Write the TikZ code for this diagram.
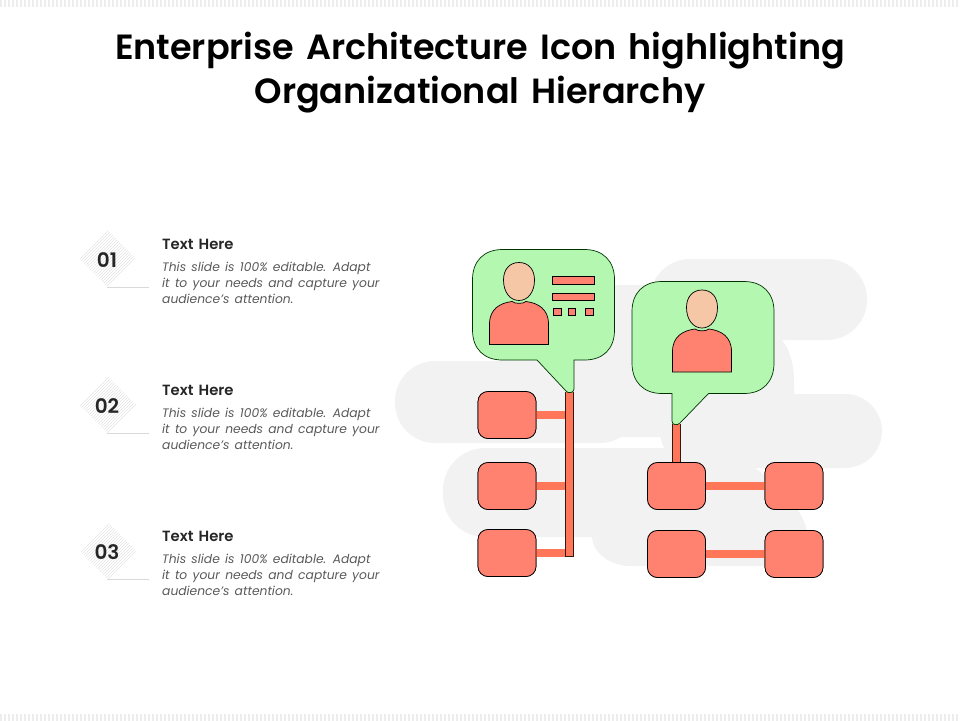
\documentclass[tikz,border=0pt]{standalone}
\usepackage{fontspec}
\setmainfont{Poppins}[BoldFont = {Poppins SemiBold}, WordSpace = 1.45]
\usetikzlibrary{patterns, shapes.geometric}

\definecolor{blobgray}{HTML}{F2F2F3}
\definecolor{bubblegreen}{HTML}{B3F7B0}
\definecolor{boxsalmon}{HTML}{FF8270}
\definecolor{barsalmon}{HTML}{FF7659}
\definecolor{skintone}{HTML}{F6C7A6}
\definecolor{inkdark}{HTML}{262626}
\definecolor{inkgray}{HTML}{595959}

\tikzset{
	orgbox/.style = {draw = black, line width = 0.7pt, fill = boxsalmon, rounded corners = 10pt, minimum width = 58pt, minimum height = 47pt, inner sep = 0pt},
	hbar/.style = {draw = barsalmon, line width = 8pt},
	iconpart/.style = {draw = black, line width = 0.7pt, fill = boxsalmon},
	bubble/.style = {draw = black!80!green, line width = 0.7pt, fill = bubblegreen},
	numdiamond/.style = {diamond, pattern = north east lines, pattern color = black!11, minimum width = 57pt, minimum height = 57pt, inner sep = 0pt},
	numtext/.style = {font = \fontsize{20}{20}\selectfont\bfseries, text = inkdark},
	headtext/.style = {font = \fontsize{14.8}{15}\selectfont\bfseries, text = inkdark, anchor = west, inner sep = 0pt},
	bodytext/.style = {font = \fontsize{12.3}{16}\selectfont\itshape, text = inkgray, anchor = north west, align = left, inner sep = 0pt}
}

\begin{document}
\begin{tikzpicture}[x = 1pt, y = -1pt]
	\useasboundingbox (0,0) rectangle (960,720);

	% page edge stripes
	\foreach \y in {3,717}
	{
		\draw [black!7, line width = 7pt, dash pattern = on 2pt off 2pt] (0,\y) -- (960,\y);
	}

	% title
	\node [font = \fontsize{35}{44}\selectfont\bfseries, text = black, align = center] (title) at (480,72.5) {Enterprise Architecture Icon highlighting\\Organizational Hierarchy};

	% grey blobs behind the chart
	\begin{scope}[blobgray]
		\fill [rounded corners = 40pt] (650,259) rectangle (867,340);
		\fill (500,285) -- (720,285) -- (782,340) .. controls (790,350) and (794,365) .. (794,380) -- (794,437) -- (500,437) -- cycle;
		\fill [rounded corners = 40pt] (395,361) rectangle (640,443);
		\fill [rounded corners = 37pt] (660,394) rectangle (882,468);
		\fill [rounded corners = 42pt] (443,448) rectangle (700,537);
		\fill (640,448) -- (755,448) -- (755,468) .. controls (785,490) and (808,515) .. (808,540) .. controls (808,556) and (800,566) .. (780,566) -- (630,566) .. controls (610,566) and (592,552) .. (592,537) -- (592,490) -- cycle;
	\end{scope}

	% left column
	\foreach \n/\y in {1/260,2/406,3/552}
	{
		\node [numdiamond] (diamond\n) at (108,\y - 1) {};
		\node [numtext] (num\n) at (107,\y) {0\n};
		\coordinate (ruleA\n) at (107,\y + 27);
		\coordinate (ruleB\n) at (149,\y + 27);
		\draw [black!15, line width = 0.6pt] (ruleA\n) -- (ruleB\n);
		\node [headtext] (head\n) at (162,\y - 16) {Text Here};
		\node [bodytext] (body\n) at (162,\y + 1.5) {This slide is 100\% editable. Adapt\\it to your needs and capture your\\audience's attention.};
	}

	% boxes
	\foreach \name/\x/\y in {la/507/415,lb/507/486,lc/507/553,ra/676.5/486,rb/794/486,rc/676.5/554,rd/794/554}
	{
		\node [orgbox] (\name) at (\x,\y) {};
	}

	% bars
	\coordinate (tipa) at (569.3,392);
	\coordinate (tipb) at (676.3,424);
	\coordinate (trunkend) at (569.3,557);
	\coordinate (trunkedge) at (565,557);
	\draw [black!80!barsalmon, line width = 8.6pt] (tipa) -- (trunkend);
	\draw [barsalmon, line width = 7.4pt, shorten > = 0.6pt] (tipa) -- (trunkend);
	\draw [black!80!barsalmon, line width = 8.6pt] (tipb) -- (ra.north -| tipb);
	\draw [barsalmon, line width = 7.4pt] (tipb) -- (ra.north -| tipb);
	\foreach \name in {la,lb,lc}
	{
		\draw [hbar] (\name.east) -- (\name.east -| trunkedge);
	}
	\draw [hbar] (ra) -- (rb);
	\draw [hbar] (rc) -- (rd);
	\foreach \name in {la,lb,lc,ra,rb,rc,rd}
	{
		\node [orgbox] at (\name) {};
	}

	% speech bubbles
	\draw [bubble] (502.5,249.5) -- (584.5,249.5) .. controls (603,249.5) and (614.5,261) .. (614.5,279.5) -- (614.5,330) .. controls (614.5,349) and (603,360) .. (584.5,360) -- (574,360) -- (574,389) .. controls (574,393) and (568,394) .. (566,391) -- (537,360) -- (502.5,360) .. controls (484,360) and (472.5,349) .. (472.5,330) -- (472.5,279.5) .. controls (472.5,261) and (484,249.5) .. (502.5,249.5) -- cycle;
	\draw [bubble] (662,281.5) -- (744,281.5) .. controls (762.5,281.5) and (774,293) .. (774,311.5) -- (774,363) .. controls (774,382) and (762.5,393.5) .. (744,393.5) -- (708.5,393.5) -- (680,423) .. controls (677,426) and (672,425) .. (672,421) -- (672,393.5) -- (662,393.5) .. controls (643.5,393.5) and (632,382) .. (632,363) -- (632,311.5) .. controls (632,293) and (643.5,281.5) .. (662,281.5) -- cycle;

	% people
	\foreach \dx/\dy in {0/0,183/27.5}
	{
		\begin{scope}[shift = {(\dx,\dy)}]
			\draw [iconpart, fill = skintone] (519,262.5) .. controls (529,262.5) and (534.5,270) .. (534.5,280) .. controls (534.5,292) and (528,300.5) .. (519,300.5) .. controls (510,300.5) and (503.5,292) .. (503.5,280) .. controls (503.5,270) and (509,262.5) .. (519,262.5) -- cycle;
			\draw [iconpart] (489.5,344.5) -- (489.5,324) .. controls (489.5,309) and (500,303) .. (512,301.5) .. controls (515,304) and (523,304) .. (526,301.5) .. controls (538,303) and (548.5,309) .. (548.5,324) -- (548.5,344.5) -- cycle;
		\end{scope}
	}

	% lines and dots of the first card
	\draw [iconpart] (552.3,276) rectangle (594.7,284.5);
	\draw [iconpart] (552.3,293.3) rectangle (594.7,300.8);
	\foreach \x/\w in {553.3/8,568.3/7.4,585.3/8.4}
	{
		\draw [iconpart] (\x,308.3) rectangle (\x + \w,315.7);
	}
\end{tikzpicture}
\end{document}
